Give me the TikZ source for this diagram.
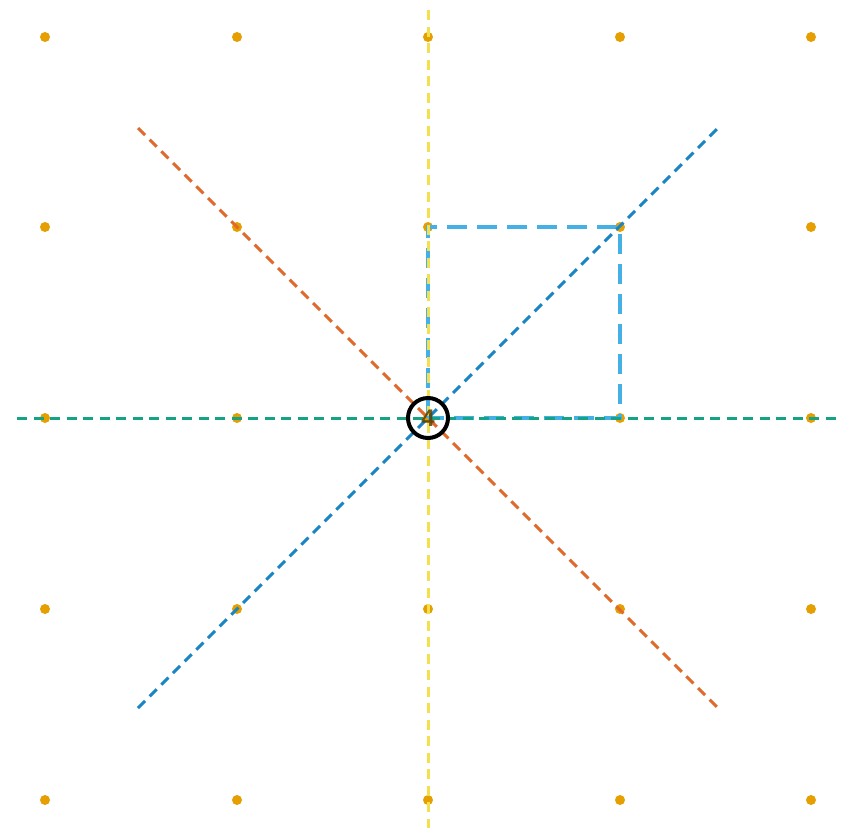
\documentclass[tikz,border=0pt]{standalone}
\usepackage{fontspec}
\setmainfont{Liberation Sans}
\definecolor{dotc}{HTML}{E69F00}
\definecolor{orangel}{HTML}{E06A2C}
\definecolor{bluel}{HTML}{1A85C4}
\definecolor{yell}{HTML}{F2E04E}
\definecolor{teall}{HTML}{14A383}
\definecolor{sqc}{HTML}{45B0E6}
\begin{document}
\begin{tikzpicture}[x=1pt,y=-1pt,
  thin dash/.style={line width=3pt, dash pattern=on 10pt off 6.5pt},
  sq dash/.style={sqc, line width=4.5pt, dash pattern=on 20pt off 10pt},
  gdot/.style={circle, fill=dotc, inner sep=0pt, minimum size=10pt}]
\useasboundingbox (0,0) rectangle (846,828);
% grid dots
\foreach \i/\x in {0/45,1/237,2/428,3/620,4/811}{
  \foreach \j/\y in {0/37,1/227,2/418,3/609,4/800}{
    \node[gdot] (d\i\j) at (\x,\y) {};
  }
}
\coordinate (yt) at (428,10);
\coordinate (yb) at (428,828);
\coordinate (tl) at (17,418);
\coordinate (tr) at (838,418);
\coordinate (o1) at (138,128);
\coordinate (o2) at (718,708);
\coordinate (b1) at (138,708);
\coordinate (b2) at (718,128);
% square
\draw[sq dash] (d22.center) -- (d21.center) -- (d31.center) -- (d32.center) -- (d22.center);
% lines
\draw[thin dash, yell] (yt) -- (yb);
\draw[thin dash, orangel] (o1) -- (o2);
\draw[thin dash, bluel] (b1) -- (b2);
\draw[thin dash, teall] (tl) -- (tr);
% center marker
\node[circle, draw=black, line width=4pt, minimum size=40pt, inner sep=0pt] (c) at (428,418) {};
\node[font=\bfseries\fontsize{24}{24}\selectfont, text=black!60!dotc, opacity=0.85] (lab) at (c.center) {4};
\end{tikzpicture}
\end{document}
